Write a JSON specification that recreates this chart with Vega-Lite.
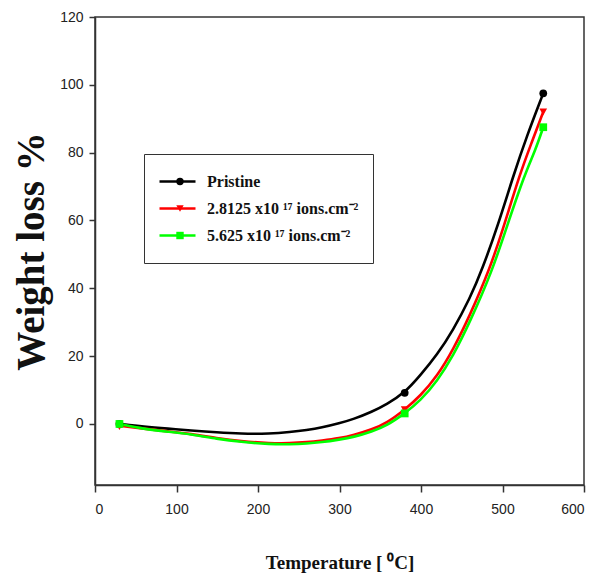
{
  "$schema": "https://vega.github.io/schema/vega-lite/v6.json",
  "width": 489,
  "height": 468,
  "autosize": {"type": "none"},
  "padding": {"left": 95, "top": 17, "right": 19, "bottom": 93},
  "background": "white",
  "config": {
    "view": {"stroke": "#333333", "strokeWidth": 1.5},
    "axis": {
      "grid": false,
      "domainColor": "#333333",
      "domainWidth": 1.5,
      "tickColor": "#333333",
      "tickWidth": 1.5,
      "labelFont": "Liberation Sans",
      "labelFontSize": 14,
      "labelColor": "#222222",
      "titleFont": "Liberation Serif",
      "titleFontWeight": "bold",
      "titleColor": "#111111"
    }
  },
  "datasets": {
    "curve": [
      {"sample": "Pristine", "t": 30, "w": 0},
      {"sample": "Pristine", "t": 60, "w": -0.8},
      {"sample": "Pristine", "t": 90, "w": -1.4},
      {"sample": "Pristine", "t": 117, "w": -1.9},
      {"sample": "Pristine", "t": 150, "w": -2.5},
      {"sample": "Pristine", "t": 178, "w": -2.9},
      {"sample": "Pristine", "t": 215, "w": -2.9},
      {"sample": "Pristine", "t": 239, "w": -2.4},
      {"sample": "Pristine", "t": 260, "w": -1.8},
      {"sample": "Pristine", "t": 278, "w": -1.1},
      {"sample": "Pristine", "t": 300, "w": 0.2},
      {"sample": "Pristine", "t": 317, "w": 1.4},
      {"sample": "Pristine", "t": 340, "w": 3.6},
      {"sample": "Pristine", "t": 358, "w": 5.8},
      {"sample": "Pristine", "t": 380, "w": 9.2},
      {"sample": "Pristine", "t": 399, "w": 14.3},
      {"sample": "Pristine", "t": 420, "w": 20.5},
      {"sample": "Pristine", "t": 439, "w": 27.5},
      {"sample": "Pristine", "t": 460, "w": 37},
      {"sample": "Pristine", "t": 475, "w": 45.5},
      {"sample": "Pristine", "t": 495, "w": 59},
      {"sample": "Pristine", "t": 513, "w": 73},
      {"sample": "Pristine", "t": 530, "w": 85},
      {"sample": "Pristine", "t": 550, "w": 97.5},
      {"sample": "2.8125 x10 ¹⁷ ions.cm⁻²", "t": 30, "w": -0.5},
      {"sample": "2.8125 x10 ¹⁷ ions.cm⁻²", "t": 60, "w": -1.4},
      {"sample": "2.8125 x10 ¹⁷ ions.cm⁻²", "t": 90, "w": -2.2},
      {"sample": "2.8125 x10 ¹⁷ ions.cm⁻²", "t": 117, "w": -2.9},
      {"sample": "2.8125 x10 ¹⁷ ions.cm⁻²", "t": 150, "w": -4.2},
      {"sample": "2.8125 x10 ¹⁷ ions.cm⁻²", "t": 178, "w": -5.1},
      {"sample": "2.8125 x10 ¹⁷ ions.cm⁻²", "t": 215, "w": -5.7},
      {"sample": "2.8125 x10 ¹⁷ ions.cm⁻²", "t": 239, "w": -5.7},
      {"sample": "2.8125 x10 ¹⁷ ions.cm⁻²", "t": 260, "w": -5.4},
      {"sample": "2.8125 x10 ¹⁷ ions.cm⁻²", "t": 278, "w": -4.9},
      {"sample": "2.8125 x10 ¹⁷ ions.cm⁻²", "t": 300, "w": -4.2},
      {"sample": "2.8125 x10 ¹⁷ ions.cm⁻²", "t": 317, "w": -3.3},
      {"sample": "2.8125 x10 ¹⁷ ions.cm⁻²", "t": 340, "w": -1.6},
      {"sample": "2.8125 x10 ¹⁷ ions.cm⁻²", "t": 358, "w": 0.3},
      {"sample": "2.8125 x10 ¹⁷ ions.cm⁻²", "t": 380, "w": 4.2},
      {"sample": "2.8125 x10 ¹⁷ ions.cm⁻²", "t": 399, "w": 8.2},
      {"sample": "2.8125 x10 ¹⁷ ions.cm⁻²", "t": 420, "w": 14.2},
      {"sample": "2.8125 x10 ¹⁷ ions.cm⁻²", "t": 439, "w": 21.7},
      {"sample": "2.8125 x10 ¹⁷ ions.cm⁻²", "t": 460, "w": 32},
      {"sample": "2.8125 x10 ¹⁷ ions.cm⁻²", "t": 484, "w": 45.5},
      {"sample": "2.8125 x10 ¹⁷ ions.cm⁻²", "t": 500, "w": 57},
      {"sample": "2.8125 x10 ¹⁷ ions.cm⁻²", "t": 521, "w": 73.5},
      {"sample": "2.8125 x10 ¹⁷ ions.cm⁻²", "t": 535, "w": 82.5},
      {"sample": "2.8125 x10 ¹⁷ ions.cm⁻²", "t": 550, "w": 92},
      {"sample": "5.625 x10 ¹⁷ ions.cm⁻²", "t": 30, "w": 0},
      {"sample": "5.625 x10 ¹⁷ ions.cm⁻²", "t": 60, "w": -1.5},
      {"sample": "5.625 x10 ¹⁷ ions.cm⁻²", "t": 90, "w": -2.3},
      {"sample": "5.625 x10 ¹⁷ ions.cm⁻²", "t": 117, "w": -3.0},
      {"sample": "5.625 x10 ¹⁷ ions.cm⁻²", "t": 150, "w": -4.4},
      {"sample": "5.625 x10 ¹⁷ ions.cm⁻²", "t": 178, "w": -5.3},
      {"sample": "5.625 x10 ¹⁷ ions.cm⁻²", "t": 215, "w": -6.0},
      {"sample": "5.625 x10 ¹⁷ ions.cm⁻²", "t": 239, "w": -6.0},
      {"sample": "5.625 x10 ¹⁷ ions.cm⁻²", "t": 260, "w": -5.8},
      {"sample": "5.625 x10 ¹⁷ ions.cm⁻²", "t": 278, "w": -5.4},
      {"sample": "5.625 x10 ¹⁷ ions.cm⁻²", "t": 300, "w": -4.6},
      {"sample": "5.625 x10 ¹⁷ ions.cm⁻²", "t": 317, "w": -3.9},
      {"sample": "5.625 x10 ¹⁷ ions.cm⁻²", "t": 340, "w": -2.2},
      {"sample": "5.625 x10 ¹⁷ ions.cm⁻²", "t": 358, "w": -0.5},
      {"sample": "5.625 x10 ¹⁷ ions.cm⁻²", "t": 380, "w": 3.1},
      {"sample": "5.625 x10 ¹⁷ ions.cm⁻²", "t": 399, "w": 6.8},
      {"sample": "5.625 x10 ¹⁷ ions.cm⁻²", "t": 420, "w": 12.7},
      {"sample": "5.625 x10 ¹⁷ ions.cm⁻²", "t": 439, "w": 19.9},
      {"sample": "5.625 x10 ¹⁷ ions.cm⁻²", "t": 460, "w": 30},
      {"sample": "5.625 x10 ¹⁷ ions.cm⁻²", "t": 488, "w": 45.5},
      {"sample": "5.625 x10 ¹⁷ ions.cm⁻²", "t": 505, "w": 58},
      {"sample": "5.625 x10 ¹⁷ ions.cm⁻²", "t": 527, "w": 73.5},
      {"sample": "5.625 x10 ¹⁷ ions.cm⁻²", "t": 540, "w": 80.5},
      {"sample": "5.625 x10 ¹⁷ ions.cm⁻²", "t": 550, "w": 87.5}
    ],
    "pts": [
      {"sample": "Pristine", "t": 30, "w": 0},
      {"sample": "Pristine", "t": 380, "w": 9.2},
      {"sample": "Pristine", "t": 550, "w": 97.5},
      {"sample": "2.8125 x10 ¹⁷ ions.cm⁻²", "t": 30, "w": -0.8},
      {"sample": "2.8125 x10 ¹⁷ ions.cm⁻²", "t": 380, "w": 4.2},
      {"sample": "2.8125 x10 ¹⁷ ions.cm⁻²", "t": 550, "w": 92},
      {"sample": "5.625 x10 ¹⁷ ions.cm⁻²", "t": 30, "w": 0},
      {"sample": "5.625 x10 ¹⁷ ions.cm⁻²", "t": 380, "w": 3.1},
      {"sample": "5.625 x10 ¹⁷ ions.cm⁻²", "t": 550, "w": 87.5}
    ]
  },
  "encoding": {
    "x": {
      "field": "t",
      "type": "quantitative",
      "scale": {"domain": [0, 600], "nice": false, "zero": false},
      "axis": {
        "values": [0, 100, 200, 300, 400, 500, 600],
        "tickSize": 7,
        "labelPadding": 10,
        "title": "Temperature [ ⁰C]",
        "titleFontSize": 19,
        "titlePadding": 37
      }
    },
    "y": {
      "field": "w",
      "type": "quantitative",
      "scale": {"domain": [-18, 120], "nice": false, "zero": false},
      "axis": {
        "values": [0, 20, 40, 60, 80, 100, 120],
        "tickSize": 6,
        "labelPadding": 6,
        "title": "Weight loss %",
        "titleFontSize": 39,
        "titlePadding": 8
      }
    }
  },
  "layer": [
    {
      "data": {"name": "curve"},
      "mark": {"type": "line", "interpolate": "basis", "strokeWidth": 2.6},
      "encoding": {
        "stroke": {
          "field": "sample",
          "type": "nominal",
          "scale": {
            "domain": ["Pristine", "2.8125 x10 ¹⁷ ions.cm⁻²", "5.625 x10 ¹⁷ ions.cm⁻²"],
            "range": ["#000000", "#ff0000", "#00ff00"]
          },
          "legend": {
            "orient": "none",
            "legendX": 49,
            "legendY": 137,
            "title": null,
            "padding": 14,
            "clipHeight": 27,
            "rowPadding": 0,
            "strokeColor": "#333333",
            "fillColor": "white",
            "symbolType": "stroke",
            "symbolSize": 1296,
            "symbolStrokeWidth": 2.6,
            "labelFont": "Liberation Serif",
            "labelFontWeight": "bold",
            "labelFontSize": 16,
            "labelColor": "#111111",
            "labelOffset": 10,
            "labelLimit": 300
          }
        }
      }
    },
    {
      "data": {"name": "pts"},
      "mark": {"type": "point", "filled": true, "opacity": 1, "size": 60, "strokeWidth": 0},
      "encoding": {
        "shape": {
          "field": "sample",
          "type": "nominal",
          "sort": null,
          "scale": {"range": ["circle", "triangle-down", "square"]},
          "legend": {
            "orient": "none",
            "legendX": 63,
            "legendY": 137,
            "title": null,
            "padding": 14,
            "clipHeight": 27,
            "rowPadding": 0,
            "symbolSize": 55,
            "symbolStrokeWidth": 0,
            "labelExpr": "''",
            "labelFontSize": 16
          }
        },
        "fill": {
          "field": "sample",
          "type": "nominal",
          "sort": null,
          "scale": {"range": ["#000000", "#ff0000", "#00ff00"]},
          "legend": {
            "orient": "none",
            "legendX": 63,
            "legendY": 137,
            "title": null,
            "padding": 14,
            "clipHeight": 27,
            "rowPadding": 0,
            "symbolSize": 55,
            "symbolStrokeWidth": 0,
            "labelExpr": "''",
            "labelFontSize": 16
          }
        }
      }
    }
  ]
}
